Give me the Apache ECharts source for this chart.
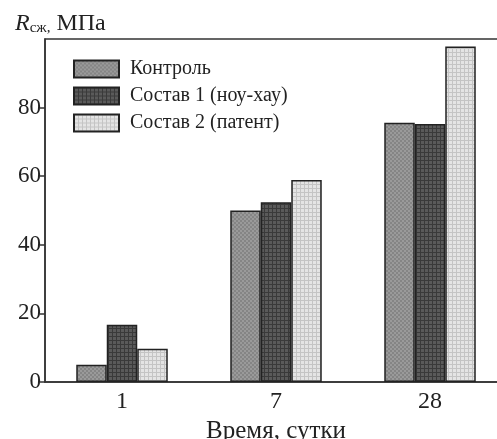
<!DOCTYPE html>
<html>
<head>
<meta charset="utf-8">
<script src="https://cdn.jsdelivr.net/npm/echarts@6/dist/echarts.min.js"></script>
<style>
  html, body { margin: 0; padding: 0; background: #fff; }
  #strength { width: 497px; height: 439px; }
</style>
</head>
<body>
<div id="strength"></div>
<script>
// прочность на сжатие по срокам твердения
const days = ['1', '7', '28'];
const seriesNames = ['Контроль', 'Состав 1 (ноу-хау)', 'Состав 2 (патент)'];
const control = [5, 50, 75.6];
const mix1 = [16.7, 52.4, 75.2];
const mix2 = [9.7, 58.9, 97.8];
const yTicks = [0, 20, 40, 60, 80];

const FONT = '"Liberation Serif", "DejaVu Serif", serif';

// small tiled textures like the print screen in the figure
function makePattern(base, dot, step, kind) {
  const c = document.createElement('canvas');
  c.width = step; c.height = step;
  const g = c.getContext('2d');
  g.fillStyle = base;
  g.fillRect(0, 0, step, step);
  g.fillStyle = dot;
  if (kind === 'grid') {
    g.fillRect(0, 0, step, 1);
    g.fillRect(0, 0, 1, step);
  } else {
    g.fillRect(0, 0, step / 2, step / 2);
    g.fillRect(step / 2, step / 2, step / 2, step / 2);
  }
  return { image: c, repeat: 'repeat' };
}

const fills = [
  makePattern('#9a9a9a', '#858585', 4, 'check'),
  makePattern('#5a5a5a', '#3a3a3a', 4, 'grid'),
  makePattern('#e4e4e4', '#c4c4c4', 4, 'grid')
];
const values = [control, mix1, mix2];

const chart = echarts.init(document.getElementById('strength'));
const option = {
  animation: false,
  textStyle: { fontFamily: FONT },
  title: {
    text: '{r|R}{s|сж,}{m| МПа}',
    left: 10,
    top: 6,
    textStyle: {
      fontWeight: 'normal',
      rich: {
        r: { fontFamily: FONT, fontStyle: 'italic', fontWeight: 'normal', fontSize: 24, color: '#222' },
        s: { fontFamily: FONT, fontWeight: 'normal', fontSize: 15, color: '#222', verticalAlign: 'bottom', padding: [10, 0, 0, 0] },
        m: { fontFamily: FONT, fontWeight: 'normal', fontSize: 24, color: '#222' }
      }
    }
  },
  legend: {
    data: seriesNames,
    orient: 'vertical',
    left: 68,
    top: 54,
    icon: 'rect',
    itemWidth: 45,
    itemHeight: 17,
    itemGap: 7,
    textStyle: { fontFamily: FONT, fontSize: 20, color: '#222', padding: [0, 0, 0, 6] }
  },
  grid: {
    left: 45,
    top: 39,
    right: -10,
    bottom: 57,
    outerBoundsMode: 'none',
    containLabel: false,
    show: true,
    borderColor: '#333',
    borderWidth: 1.5
  },
  xAxis: {
    type: 'category',
    data: days,
    name: 'Время, сутки',
    nameLocation: 'middle',
    nameGap: 35,
    nameTextStyle: { fontFamily: FONT, fontSize: 25, color: '#222' },
    axisLine: { lineStyle: { color: '#333', width: 1.5 } },
    axisTick: { show: false },
    axisLabel: { fontFamily: FONT, fontSize: 24, color: '#222', margin: 8 }
  },
  yAxis: {
    type: 'value',
    min: 0,
    max: 100,
    interval: 20,
    splitLine: { show: false },
    axisLine: { show: true, lineStyle: { color: '#333', width: 1.5 } },
    axisTick: { show: true, inside: false, length: 5, customValues: yTicks, lineStyle: { color: '#333', width: 1.5 } },
    axisLabel: { fontFamily: FONT, fontSize: 23, color: '#222', margin: 4, customValues: yTicks }
  },
  series: seriesNames.map(function (name, i) {
    return {
      name: name,
      type: 'bar',
      barWidth: 30.5,
      barGap: '0%',
      itemStyle: { color: fills[i], borderColor: '#222', borderWidth: 1.5 },
      data: values[i]
    };
  })
};
chart.setOption(option);
</script>
</body>
</html>
